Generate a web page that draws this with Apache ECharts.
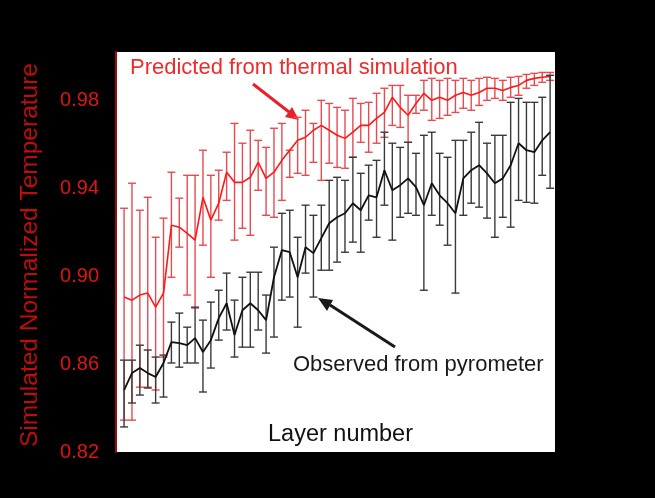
<!DOCTYPE html>
<html>
<head>
<meta charset="utf-8">
<script src="https://cdn.jsdelivr.net/npm/echarts@6/dist/echarts.min.js"></script>
<style>
html,body{margin:0;padding:0;background:#000;}
#chart{width:655px;height:498px;}
</style>
</head>
<body>
<div id="chart"></div>
<script>
var layers = [1,2,3,4,5,6,7,8,9,10,11,12,13,14,15,16,17,18,19,20,21,22,23,24,25,26,27,28,29,30,31,32,33,34,35,36,37,38,39,40,41,42,43,44,45,46,47,48,49,50,51,52,53,54,55];

var predMean = [0.8905,0.8891,0.8914,0.8923,0.8859,0.8923,0.9232,0.9223,0.9195,0.9164,
  0.9359,0.9255,0.9332,0.9473,0.9427,0.9427,0.9450,0.9518,0.9445,0.9473,
  0.9527,0.9573,0.9618,0.9632,0.9664,0.9686,0.9664,0.9641,0.9627,0.9655,
  0.9686,0.9686,0.9718,0.9745,0.9814,0.9768,0.9732,0.9786,0.9832,0.9800,
  0.9814,0.9800,0.9823,0.9836,0.9823,0.9836,0.9855,0.9855,0.9845,0.9859,
  0.9868,0.9891,0.9900,0.9905,0.9909];
var predHigh = [0.9309,0.9423,0.9300,0.9359,0.9177,0.9264,0.9473,0.9355,0.9459,0.9459,
  0.9573,0.9459,0.9482,0.9564,0.9695,0.9605,0.9664,0.9618,0.9586,0.9673,
  0.9695,0.9573,0.9723,0.9755,0.9695,0.9800,0.9786,0.9768,0.9755,0.9809,
  0.9786,0.9791,0.9832,0.9855,0.9868,0.9868,0.9823,0.9823,0.9891,0.9900,
  0.9891,0.9900,0.9891,0.9900,0.9891,0.9900,0.9905,0.9900,0.9891,0.9905,
  0.9909,0.9918,0.9923,0.9927,0.9927];
var predLow = [0.8345,0.8345,0.8495,0.8495,0.8482,0.8632,0.8995,0.9132,0.8914,0.8855,
  0.9141,0.8995,0.9255,0.9345,0.9164,0.9218,0.9186,0.9391,0.9277,0.9268,
  0.9345,0.9450,0.9468,0.9459,0.9518,0.9436,0.9514,0.9495,0.9491,0.9541,
  0.9609,0.9564,0.9605,0.9632,0.9686,0.9677,0.9609,0.9741,0.9755,0.9709,
  0.9718,0.9732,0.9745,0.9764,0.9755,0.9777,0.9800,0.9809,0.9800,0.9814,
  0.9823,0.9855,0.9868,0.9882,0.9891];

var obsMean = [0.8482,0.8559,0.8582,0.8559,0.8541,0.8605,0.8700,0.8695,0.8686,0.8718,
  0.8655,0.8709,0.8809,0.8877,0.8732,0.8845,0.8877,0.8845,0.8800,0.8995,
  0.9118,0.9109,0.8995,0.9132,0.9105,0.9173,0.9241,0.9268,0.9286,0.9332,
  0.9300,0.9368,0.9359,0.9482,0.9391,0.9414,0.9445,0.9405,0.9323,0.9423,
  0.9368,0.9332,0.9286,0.9445,0.9482,0.9505,0.9468,0.9423,0.9445,0.9505,
  0.9605,0.9573,0.9564,0.9618,0.9655];
var obsHigh = [0.8618,0.8618,0.8686,0.8664,0.8632,0.8641,0.8791,0.8832,0.8768,0.8859,
  0.8800,0.8882,0.8936,0.9014,0.8891,0.8995,0.9018,0.9018,0.8914,0.9132,
  0.9286,0.9300,0.9177,0.9323,0.9277,0.9323,0.9436,0.9450,0.9436,0.9541,
  0.9468,0.9505,0.9527,0.9655,0.9605,0.9586,0.9609,0.9559,0.9641,0.9655,
  0.9559,0.9541,0.9618,0.9618,0.9655,0.9700,0.9605,0.9641,0.9641,0.9791,
  0.9809,0.9791,0.9791,0.9814,0.9914];
var obsLow = [0.8314,0.8423,0.8459,0.8491,0.8423,0.8450,0.8605,0.8586,0.8605,0.8605,
  0.8473,0.8582,0.8709,0.8755,0.8632,0.8677,0.8677,0.8755,0.8650,0.8723,
  0.8891,0.8905,0.8768,0.9014,0.8905,0.9027,0.9027,0.9064,0.9109,0.9155,
  0.9109,0.9255,0.9177,0.9323,0.9164,0.9268,0.9286,0.9277,0.8936,0.9277,
  0.9232,0.9141,0.8923,0.9277,0.9332,0.9314,0.9264,0.9177,0.9268,0.9223,
  0.9345,0.9336,0.9332,0.9459,0.9400];

var yTicks = [0.82, 0.86, 0.90, 0.94, 0.98];
var yTitle = 'Simulated Normalized Temperature';
var xTitle = 'Layer number';
var predLabel = 'Predicted from thermal simulation';
var obsLabel = 'Observed from pyrometer';

var FONT = '"Liberation Sans", Arial, Helvetica, sans-serif';

function errBars(color, width) {
  return function (params, api) {
    var x = api.value(0), lo = api.value(1), hi = api.value(2);
    var pLo = api.coord([x, lo]);
    var pHi = api.coord([x, hi]);
    var hw = 4;
    var st = {stroke: color, lineWidth: width, fill: null};
    return {
      type: 'group',
      children: [
        {type: 'line', shape: {x1: pLo[0], y1: pLo[1], x2: pHi[0], y2: pHi[1]}, style: st},
        {type: 'line', shape: {x1: pLo[0] - hw, y1: pLo[1], x2: pLo[0] + hw, y2: pLo[1]}, style: st},
        {type: 'line', shape: {x1: pHi[0] - hw, y1: pHi[1], x2: pHi[0] + hw, y2: pHi[1]}, style: st}
      ]
    };
  };
}

var predErr = layers.map(function (l, i) { return [l, predLow[i], predHigh[i]]; });
var obsErr = layers.map(function (l, i) { return [l, obsLow[i], obsHigh[i]]; });
var predLine = layers.map(function (l, i) { return [l, predMean[i]]; });
var obsLine = layers.map(function (l, i) { return [l, obsMean[i]]; });

var chart = echarts.init(document.getElementById('chart'), null, {renderer: 'canvas'});
chart.setOption({
  backgroundColor: '#000',
  animation: false,
  grid: {left: 115, right: 100, top: 52, bottom: 46, show: true, backgroundColor: '#ffffff', borderWidth: 0},
  xAxis: {
    type: 'value', min: -0.15, max: 55.62,
    axisLine: {show: false}, axisTick: {show: false}, axisLabel: {show: false}, splitLine: {show: false}
  },
  yAxis: {
    type: 'value', min: 0.82, max: 1.002, interval: 0.04,
    axisLine: {show: true, lineStyle: {color: '#9a0a0a', width: 2}},
    axisTick: {show: false},
    splitLine: {show: false},
    axisLabel: {
      showMaxLabel: false,
      color: '#e01414', fontSize: 20, fontFamily: FONT, margin: 16,
      formatter: function (v) {
        for (var k = 0; k < yTicks.length; k++) {
          if (Math.abs(v - yTicks[k]) < 1e-6) return yTicks[k].toFixed(2);
        }
        return '';
      }
    }
  },
  graphic: [
    {type: 'text', rotation: Math.PI / 2, x: 30, y: 255, silent: true,
     style: {text: yTitle, fill: '#c00c0c', font: '24.5px ' + FONT, textAlign: 'center', textVerticalAlign: 'middle'}},
    {type: 'text', x: 130, y: 57, style: {text: predLabel, fill: '#f02a2a', font: '22px ' + FONT}},
    {type: 'text', x: 293, y: 354, style: {text: obsLabel, fill: '#1a1a1a', font: '22px ' + FONT}},
    {type: 'text', x: 268, y: 423, style: {text: xTitle, fill: '#111', font: '23.5px ' + FONT}},
    {type: 'line', shape: {x1: 253, y1: 84, x2: 289, y2: 112}, style: {stroke: '#e8202a', lineWidth: 3}},
    {type: 'polygon', shape: {points: [[299, 120], [285, 117], [292, 107]]}, style: {fill: '#e8202a'}},
    {type: 'line', shape: {x1: 395, y1: 347, x2: 330, y2: 305}, style: {stroke: '#1a1a1a', lineWidth: 3}},
    {type: 'polygon', shape: {points: [[318, 298], [333, 300], [327, 311]]}, style: {fill: '#1a1a1a'}}
  ],
  series: [
    {type: 'custom', name: 'predErr', renderItem: errBars('#e84a4f', 1.4), data: predErr, encode: {x: 0, y: [1, 2]}, z: 2},
    {type: 'line', name: 'pred', data: predLine, showSymbol: false, symbol: 'none', lineStyle: {color: '#ff1818', width: 1.6}, z: 3},
    {type: 'custom', name: 'obsErr', renderItem: errBars('#3a3a3a', 1.4), data: obsErr, encode: {x: 0, y: [1, 2]}, z: 4},
    {type: 'line', name: 'obs', data: obsLine, showSymbol: false, symbol: 'none', lineStyle: {color: '#111', width: 1.8}, z: 5}
  ]
});
</script>
</body>
</html>
